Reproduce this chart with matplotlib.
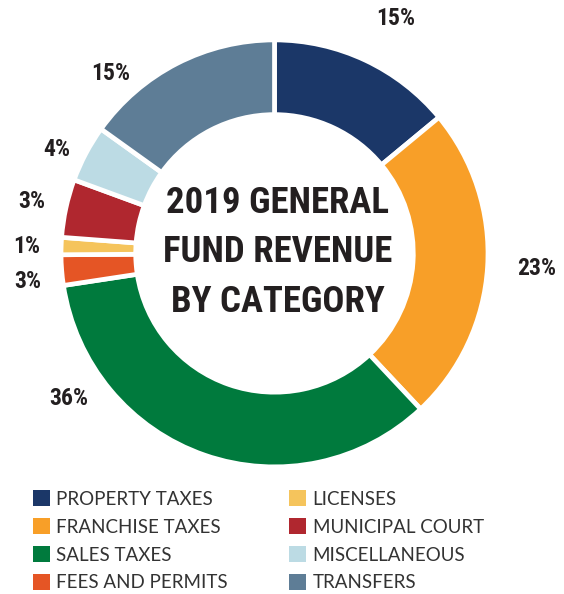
import matplotlib
matplotlib.use('Agg')
import matplotlib.pyplot as plt
import numpy as np
import os
from matplotlib.patches import Patch
from matplotlib import font_manager

categories = ['PROPERTY TAXES', 'FRANCHISE TAXES', 'SALES TAXES', 'FEES AND PERMITS',
              'LICENSES', 'MUNICIPAL COURT', 'MISCELLANEOUS', 'TRANSFERS']
shares = [14.0, 24.0, 34.6, 2.3, 1.3, 4.4, 4.3, 15.1]
pct_labels = ['15%', '23%', '36%', '3%', '1%', '3%', '4%', '15%']
colors = ['#1b3768', '#f89f28', '#007a3d', '#e55525',
          '#f5c45c', '#b0272f', '#bcdbe4', '#5e7d96']
title = '2019 GENERAL\nFUND REVENUE\nBY CATEGORY'

# label placement (angle in degrees, distance in radii)
label_ang = [62.7, -3.2, 215.1, 186.4, 178.3, 168.0, 154.6, 132.3]
label_rad = [1.25, 1.24, 1.19, 1.174, 1.17, 1.17, 1.14, 1.15]


# look for a narrow bold face among the installed fonts
def narrow_font():
    files = {os.path.basename(f.fname): f.fname for f in font_manager.fontManager.ttflist}
    for key in ['RobotoCondensed-Bold.ttf', 'NotoSans-CondensedBold.ttf',
                'NotoSans-ExtraCondensedBold.ttf', 'LiberationSansNarrow-Bold.ttf',
                'DejaVuSansCondensed-Bold.ttf']:
        if key in files:
            return font_manager.FontProperties(fname=files[key]), key
    return font_manager.FontProperties(family='DejaVu Sans', weight='bold'), 'dejavu'


cond, cond_name = narrow_font()
scale = {'RobotoCondensed-Bold.ttf': 1.0,
         'NotoSans-CondensedBold.ttf': 0.95,
         'NotoSans-ExtraCondensedBold.ttf': 1.1,
         'LiberationSansNarrow-Bold.ttf': 1.05}.get(cond_name, 0.8)

W, H = 564, 594
fig = plt.figure(figsize=(W / 100, H / 100), dpi=100)
ax = fig.add_axes([0, 0, 1, 1])

cx, cy, R = 274.5, H - 253.4, 213.5
width = 0.35

ax.pie(shares, colors=colors, startangle=90, counterclock=False,
       center=(cx, cy), radius=R,
       wedgeprops=dict(width=R * width, edgecolor='white', linewidth=3.4))
ax.set_xlim(0, W)
ax.set_ylim(0, H)
ax.axis('off')

for lab, a, r in zip(pct_labels, label_ang, label_rad):
    t = np.deg2rad(a)
    p = cond.copy()
    p.set_size(17 * scale)
    ax.text(cx + r * 211.7 * np.cos(t), cy + r * 211.7 * np.sin(t), lab,
            ha='center', va='center', fontproperties=p, color='#231f20')

p = cond.copy()
p.set_size(26.5 * scale)
ax.text(cx + 3, cy + 1, title, ha='center', va='center', fontproperties=p,
        color='#231f20', linespacing=1.47)

handles = [Patch(facecolor=c, edgecolor='none') for c in colors]
fig.legend(handles, categories, ncol=2, loc='upper left',
           bbox_to_anchor=(0.045, 0.187), frameon=False,
           prop={'family': 'Lato', 'size': 13.5},
           handlelength=0.9, handleheight=0.9, handletextpad=0.35,
           columnspacing=3.27, labelspacing=0.57, borderaxespad=0)
for t in fig.legends[0].get_texts():
    t.set_color('#333333')

fig.savefig('out.png', dpi=100)
